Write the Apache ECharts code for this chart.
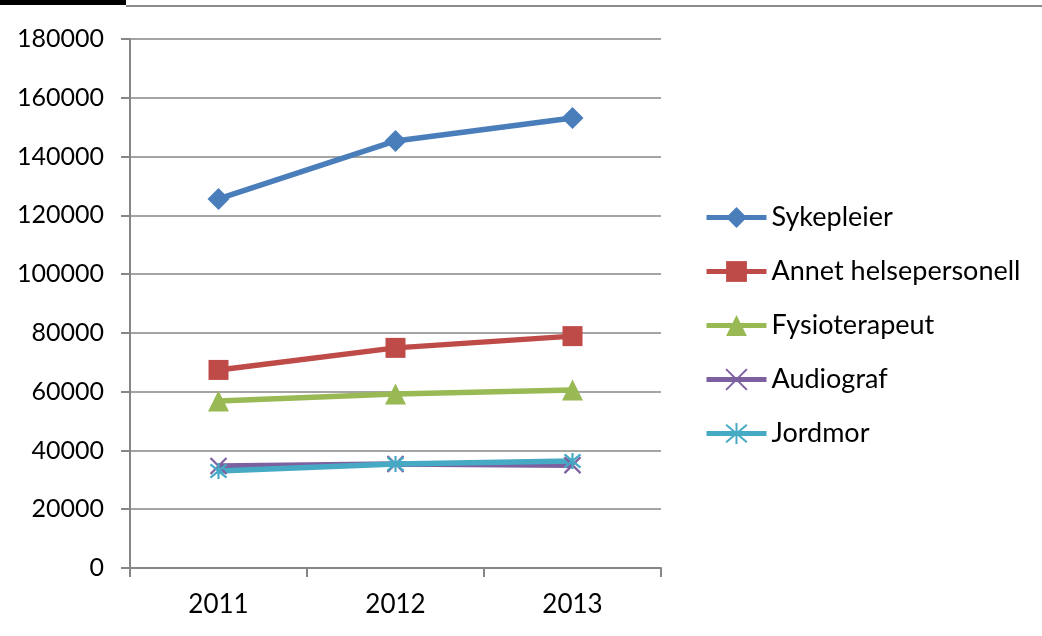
<!DOCTYPE html>
<html>
<head>
<meta charset="utf-8">
<script src="https://cdn.jsdelivr.net/npm/echarts@6/dist/echarts.min.js"></script>
<style>
  html, body { margin: 0; padding: 0; background: #fff; }
  #chart { width: 1042px; height: 636px; }
</style>
</head>
<body>
<div id="chart"></div>
<script>
const years = ['2011', '2012', '2013'];
const sykepleier = [125600, 145300, 153100];
const annetHelsepersonell = [67400, 74900, 78900];
const fysioterapeut = [56800, 59200, 60600];
const audiograf = [34700, 35400, 35000];
const jordmor = [33000, 35400, 36400];
const yTicks = { min: 0, max: 180000, interval: 20000 };

const FONT = 'Lato, "Open Sans", sans-serif';
const crossPath = 'path://M0,0L10,10M10,0L0,10';
const starPath = 'path://M0,0L10,10M10,0L0,10M5,-1L5,11';

function lineSeries(name, data, color, symbol, size, fill) {
  return {
    name: name,
    type: 'line',
    data: data,
    symbol: symbol,
    symbolSize: size,
    showAllSymbol: true,
    lineStyle: { color: color, width: 5.5 },
    itemStyle: fill
      ? { color: color, borderColor: color, borderWidth: 0 }
      : { color: 'none', borderColor: color, borderWidth: 2.2 },
    emphasis: { disabled: true },
    z: 3
  };
}

const chart = echarts.init(document.getElementById('chart'), null, { renderer: 'canvas' });
chart.setOption({
  animation: false,
  backgroundColor: '#ffffff',
  textStyle: { fontFamily: FONT },
  graphic: [
    { type: 'rect', shape: { x: 0, y: 0, width: 126, height: 5 }, style: { fill: '#000' } },
    { type: 'line', shape: { x1: 126, y1: 6, x2: 1042, y2: 6 }, style: { stroke: '#8c8c8c', lineWidth: 2 } }
  ],
  grid: { left: 130, right: 381, top: 39, bottom: 68, containLabel: false },
  legend: {
    orient: 'vertical',
    left: 699,
    top: 199,
    itemWidth: 60,
    itemHeight: 26,
    itemGap: 27,
    lineStyle: { width: 5 },
    textStyle: { fontFamily: FONT, fontSize: 27, lineHeight: 26, color: '#000' },
    data: ['Sykepleier', 'Annet helsepersonell', 'Fysioterapeut', 'Audiograf', 'Jordmor']
  },
  xAxis: {
    type: 'category',
    data: years,
    boundaryGap: true,
    axisLine: { lineStyle: { color: '#868686', width: 2 } },
    axisTick: { show: true, length: 9, lineStyle: { color: '#868686', width: 2 } },
    axisLabel: { fontFamily: FONT, fontSize: 26, color: '#000', margin: 24 }
  },
  yAxis: {
    type: 'value',
    min: yTicks.min,
    max: yTicks.max,
    interval: yTicks.interval,
    axisLine: { show: true, lineStyle: { color: '#868686', width: 2 } },
    axisTick: { show: true, length: 9, lineStyle: { color: '#868686', width: 2 } },
    axisLabel: { fontFamily: FONT, fontSize: 25, color: '#000', margin: 26, formatter: v => String(v) },
    splitLine: { lineStyle: { color: '#868686', width: 1.5 } }
  },
  series: [
    lineSeries('Sykepleier', sykepleier, '#4a7ebb', 'diamond', 22, true),
    lineSeries('Annet helsepersonell', annetHelsepersonell, '#be4b48', 'rect', 20, true),
    lineSeries('Fysioterapeut', fysioterapeut, '#98b954', 'triangle', 21, true),
    lineSeries('Audiograf', audiograf, '#7d60a0', crossPath, 16, false),
    lineSeries('Jordmor', jordmor, '#46aac5', starPath, 16, false)
  ]
});
</script>
</body>
</html>
